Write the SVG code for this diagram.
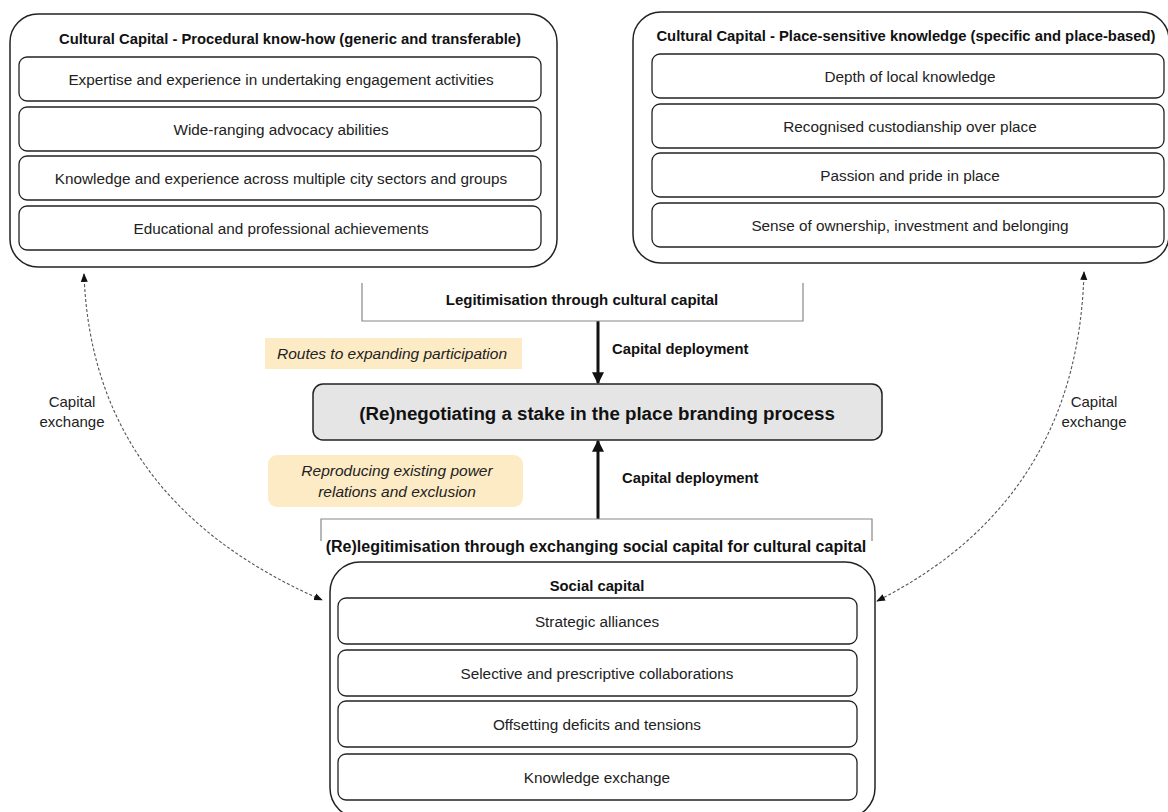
<svg xmlns="http://www.w3.org/2000/svg" width="1168" height="812" viewBox="0 0 1168 812">
<defs>
<style>
.outer{fill:#fff;stroke:#222;stroke-width:1.5}
.row{fill:#fff;stroke:#222;stroke-width:1.3}
.t{font-family:"Liberation Sans",Arial,sans-serif;font-size:15.3px;fill:#222;text-anchor:middle}
.b{font-family:"Liberation Sans",Arial,sans-serif;font-size:14.8px;font-weight:bold;fill:#111;text-anchor:middle}
.bl{font-family:"Liberation Sans",Arial,sans-serif;font-size:14.8px;font-weight:bold;fill:#111}
.i{font-family:"Liberation Sans",Arial,sans-serif;font-size:15.5px;font-style:italic;fill:#222;text-anchor:middle}
.c{font-family:"Liberation Sans",Arial,sans-serif;font-size:15px;fill:#222;text-anchor:middle}
.bracket{fill:none;stroke:#888;stroke-width:1.2}
.solid{fill:none;stroke:#111;stroke-width:3}
.dash{fill:none;stroke:#555;stroke-width:1.1;stroke-dasharray:3,2}
.yel{fill:#fdebc6}
</style>
<marker id="ah" viewBox="0 0 10 10" refX="9" refY="5" markerWidth="4" markerHeight="4" orient="auto"><path d="M0,0 L10,5 L0,10 z" fill="#111"/></marker>
<marker id="dh" viewBox="0 0 10 10" refX="9" refY="5" markerWidth="8" markerHeight="8" orient="auto-start-reverse"><path d="M0,1 L10,5 L0,9 z" fill="#111"/></marker>
</defs>
<rect width="1168" height="812" fill="#fff"/>

<g id="connectors">
<path class="dash" d="M84,274 Q92,500 322,600" marker-start="url(#dh)" marker-end="url(#dh)"/>
<path class="dash" d="M1084,272 Q1078,500 877,601" marker-start="url(#dh)" marker-end="url(#dh)"/>
<line class="solid" x1="598" y1="321" x2="598" y2="383" marker-end="url(#ah)"/>
<line class="solid" x1="598" y1="519" x2="598" y2="441" marker-end="url(#ah)"/>
<text class="bl" x="612" y="354">Capital deployment</text>
<text class="bl" x="622" y="483">Capital deployment</text>
<text class="c" x="72" y="407">Capital</text>
<text class="c" x="72" y="427">exchange</text>
<text class="c" x="1094" y="407">Capital</text>
<text class="c" x="1094" y="427">exchange</text>
</g>

<g id="procedural">
<rect class="outer" x="10" y="14" width="547" height="253" rx="28"/>
<text class="b" x="290" y="44">Cultural Capital - Procedural know-how (generic and transferable)</text>
<rect class="row" x="19" y="57" width="522" height="44" rx="8"/>
<text class="t" x="281" y="84.5">Expertise and experience in undertaking engagement activities</text>
<rect class="row" x="19" y="107" width="522" height="44" rx="8"/>
<text class="t" x="281" y="134.5">Wide-ranging advocacy abilities</text>
<rect class="row" x="19" y="156" width="522" height="44" rx="8"/>
<text class="t" x="281" y="183.5">Knowledge and experience across multiple city sectors and groups</text>
<rect class="row" x="19" y="206" width="522" height="44" rx="8"/>
<text class="t" x="281" y="233.5">Educational and professional achievements</text>
</g>

<g id="place">
<rect class="outer" x="633" y="12" width="536" height="251" rx="28"/>
<text class="b" x="906" y="41">Cultural Capital - Place-sensitive knowledge (specific and place-based)</text>
<rect class="row" x="652" y="54" width="512" height="44" rx="8"/>
<text class="t" x="910" y="81.5">Depth of local knowledge</text>
<rect class="row" x="652" y="104" width="512" height="44" rx="8"/>
<text class="t" x="910" y="131.5">Recognised custodianship over place</text>
<rect class="row" x="652" y="153" width="512" height="44" rx="8"/>
<text class="t" x="910" y="180.5">Passion and pride in place</text>
<rect class="row" x="652" y="203" width="512" height="44" rx="8"/>
<text class="t" x="910" y="230.5">Sense of ownership, investment and belonging</text>
</g>

<g id="legitimisation">
<path class="bracket" d="M362,283 V321 H803 V283"/>
<text class="b" x="582" y="305" style="font-size:15px">Legitimisation through cultural capital</text>
</g>

<g id="routes">
<rect class="yel" x="265" y="338" width="257" height="31"/>
<text class="i" x="392" y="359">Routes to expanding participation</text>
</g>

<g id="negotiating">
<rect x="313" y="384" width="569" height="56" rx="10" fill="#e5e5e5" stroke="#222" stroke-width="1.5"/>
<text class="b" x="597" y="419.5" style="font-size:18.7px">(Re)negotiating a stake in the place branding process</text>
</g>

<g id="reproducing">
<rect class="yel" x="268" y="455" width="255" height="52" rx="9"/>
<text class="i" x="397" y="476">Reproducing existing power</text>
<text class="i" x="397" y="497">relations and exclusion</text>
</g>

<g id="relegitimisation">
<path class="bracket" d="M321,541 V519 H872 V541"/>
<text class="b" x="596" y="552" style="font-size:16px">(Re)legitimisation through exchanging social capital for cultural capital</text>
</g>

<g id="social">
<rect class="outer" x="330" y="562" width="545" height="256" rx="30"/>
<text class="b" x="597" y="591">Social capital</text>
<rect class="row" x="338" y="598" width="519" height="46" rx="8"/>
<text class="t" x="597" y="626.5">Strategic alliances</text>
<rect class="row" x="338" y="650" width="519" height="46" rx="8"/>
<text class="t" x="597" y="678.5">Selective and prescriptive collaborations</text>
<rect class="row" x="338" y="701" width="519" height="46" rx="8"/>
<text class="t" x="597" y="729.5">Offsetting deficits and tensions</text>
<rect class="row" x="338" y="754" width="519" height="46" rx="8"/>
<text class="t" x="597" y="782.5">Knowledge exchange</text>
</g>
</svg>
